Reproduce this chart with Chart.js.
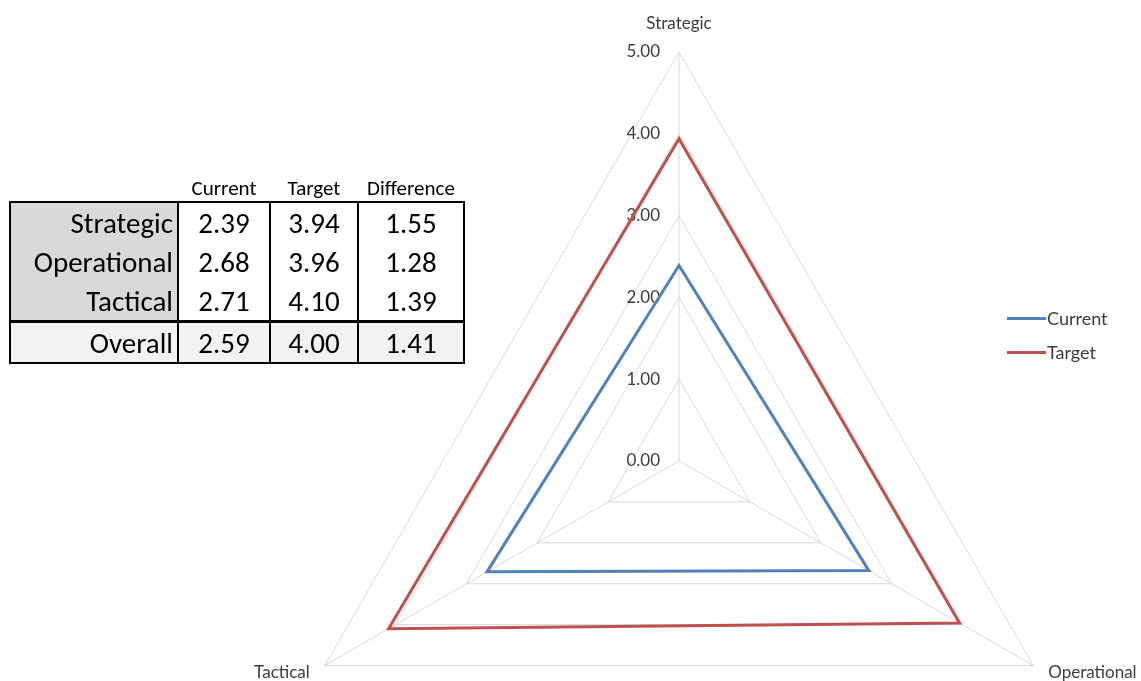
<!DOCTYPE html>
<html>
<head>
<meta charset="utf-8">
<title>Capability scores</title>
<script src="https://cdn.jsdelivr.net/npm/chart.js@4.4.0/dist/chart.umd.min.js"></script>
<style>
  html, body { margin: 0; padding: 0; background: #fff; width: 1141px; height: 681px; overflow: hidden; }
  #stage { position: absolute; left: 0; top: 0; width: 1141px; height: 681px; overflow: hidden; }
  #radar { position: absolute; left: 0; top: 0; width: 1141px; height: 922px; filter: blur(0.55px); }
  #summary {
    position: absolute; left: 9px; top: 175px; z-index: 2;
    border-collapse: collapse; table-layout: fixed;
    font-family: Carlito, Calibri, Lato, sans-serif; color: #000;
  }
  #summary th { font-weight: normal; font-size: 21px; height: 26px; padding: 0; text-align: center; vertical-align: middle; white-space: nowrap; }
  #summary td {
    font-size: 29px; padding: 0; text-align: center; vertical-align: middle;
    border-left: 2px solid #000; border-right: 2px solid #000; background: #fff; height: 39px; white-space: nowrap;
  }
  #summary td.name { text-align: right; padding-right: 4px; background: #d9d9d9; }
  #summary tbody tr:first-child td { border-top: 2px solid #000; }
  #summary tr.overall td { background: #f2f2f2; border-top: 3px solid #000; border-bottom: 2px solid #000; height: 39px; }
  #legend {
    position: absolute; left: 1007px; top: 306px; z-index: 2; filter: blur(0.55px);
    font-family: Lato, "Open Sans", sans-serif; font-size: 18px; color: #3c3c3c;
  }
  #legend .item { display: flex; align-items: center; height: 24px; margin-bottom: 10px; }
  #legend .swatch { width: 39px; height: 3px; margin-right: 1px; }
</style>
</head>
<body>
<div id="stage">
  <canvas id="radar" width="1141" height="922"></canvas>
  <table id="summary">
    <colgroup>
      <col style="width:168px"><col style="width:92px"><col style="width:88px"><col style="width:106px">
    </colgroup>
    <thead><tr id="headRow"><th></th></tr></thead>
    <tbody id="bodyRows"></tbody>
  </table>
  <div id="legend"></div>
</div>
<script>
// Dimensions of the capability assessment
const categories = ['Strategic', 'Operational', 'Tactical'];
// Scores per dimension
const currentScores = [2.39, 2.68, 2.71];
const targetScores = [3.94, 3.96, 4.10];
const scoreGaps = [1.55, 1.28, 1.39];
// Summary row: current, target, difference
const overallLabel = 'Overall';
const overallScores = [2.59, 4.00, 1.41];
const tableColumns = ['Current', 'Target', 'Difference'];
// Radial axis steps
const tickValues = [0, 1, 2, 3, 4, 5];

const seriesColors = { current: '#4f81bd', target: '#c0504d' };
const axisFont = '17px Lato, "Open Sans", sans-serif';
const axisColor = '#3c3c3c';

// ---- summary table ----
const headRow = document.getElementById('headRow');
tableColumns.forEach(name => {
  const th = document.createElement('th');
  th.textContent = name;
  headRow.appendChild(th);
});
const bodyRows = document.getElementById('bodyRows');
function addRow(label, values, cls) {
  const tr = document.createElement('tr');
  if (cls) tr.className = cls;
  const nameCell = document.createElement('td');
  nameCell.className = 'name';
  nameCell.textContent = label;
  tr.appendChild(nameCell);
  values.forEach(v => {
    const td = document.createElement('td');
    td.textContent = v.toFixed(2);
    tr.appendChild(td);
  });
  bodyRows.appendChild(tr);
}
categories.forEach((cat, i) => addRow(cat, [currentScores[i], targetScores[i], scoreGaps[i]]));
addRow(overallLabel, overallScores, 'overall');

// ---- axis text drawn through the radial scale ----
const axisText = {
  id: 'axisText',
  beforeDatasetsDraw(chart) {
    const scale = chart.scales.r;
    const ctx = chart.ctx;
    ctx.save();
    ctx.font = axisFont;
    ctx.fillStyle = axisColor;
    // value labels, left of the vertical axis
    ctx.textAlign = 'right';
    ctx.textBaseline = 'middle';
    scale.ticks.forEach(t => {
      const y = scale.yCenter - scale.getDistanceFromCenterForValue(t.value);
      ctx.fillText(t.value.toFixed(2), scale.xCenter - 19, y);
    });
    // category names just outside each spoke
    ctx.textBaseline = 'alphabetic';
    chart.data.labels.forEach((label, i) => {
      const p = scale.getPointPosition(i, scale.drawingArea);
      const dx = p.x - scale.xCenter;
      if (Math.abs(dx) < 1) {
        ctx.textAlign = 'center';
        ctx.fillText(label, p.x, p.y - 23);
      } else if (dx > 0) {
        ctx.textAlign = 'left';
        ctx.fillText(label, p.x + 15, p.y + 12);
      } else {
        ctx.textAlign = 'right';
        ctx.fillText(label, p.x - 15, p.y + 12);
      }
    });
    ctx.restore();
  }
};

const chart = new Chart(document.getElementById('radar'), {
  type: 'radar',
  data: {
    labels: categories,
    datasets: [
      { label: 'Current', data: currentScores, borderColor: seriesColors.current, backgroundColor: seriesColors.current,
        borderWidth: 3, fill: false, pointRadius: 0, pointHoverRadius: 0, tension: 0 },
      { label: 'Target', data: targetScores, borderColor: seriesColors.target, backgroundColor: seriesColors.target,
        borderWidth: 3, fill: false, pointRadius: 0, pointHoverRadius: 0, tension: 0 }
    ]
  },
  options: {
    responsive: false,
    animation: false,
    devicePixelRatio: 1,
    layout: { padding: { top: 52, bottom: 52, left: 270, right: 53 } },
    plugins: { legend: { display: false }, tooltip: { enabled: false } },
    scales: {
      r: {
        min: 0,
        max: 5,
        afterBuildTicks: s => { s.ticks = tickValues.map(v => ({ value: v })); },
        ticks: { display: false },
        pointLabels: { display: false },
        grid: { color: '#d9d9d9', lineWidth: 1 },
        angleLines: { color: '#d9d9d9', lineWidth: 1 }
      }
    }
  },
  plugins: [axisText]
});

// ---- legend built from the datasets ----
const legend = document.getElementById('legend');
chart.data.datasets.forEach(ds => {
  const item = document.createElement('div');
  item.className = 'item';
  const sw = document.createElement('span');
  sw.className = 'swatch';
  sw.style.background = ds.borderColor;
  const txt = document.createElement('span');
  txt.textContent = ds.label;
  item.appendChild(sw);
  item.appendChild(txt);
  legend.appendChild(item);
});
</script>
</body>
</html>
